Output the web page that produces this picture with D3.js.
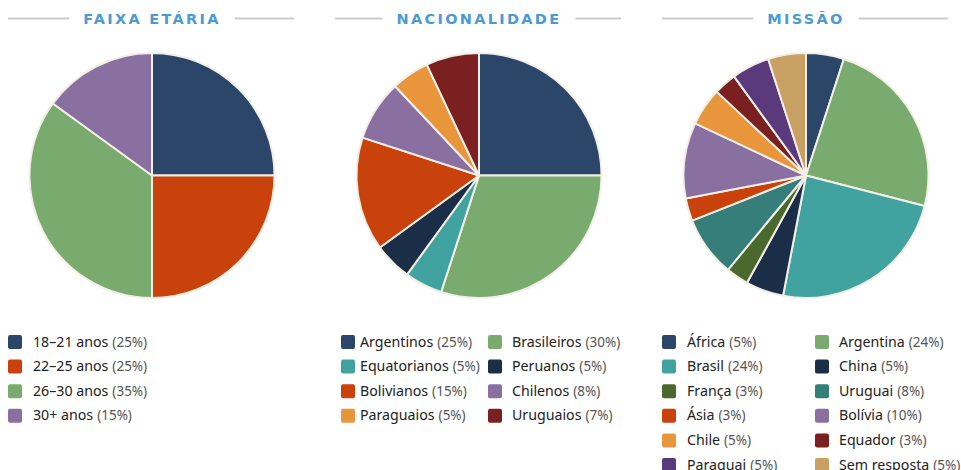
<!DOCTYPE html>
<html>
<head>
<meta charset="utf-8">
<script src="https://cdn.jsdelivr.net/npm/d3@7"></script>
<style>
  body { margin: 0; background: #fff; }
  svg { display: block; }
</style>
</head>
<body>
<div id="chart"></div>
<script>
'use strict';

// Faixa etária
const ageLabels = ['18–21 anos', '22–25 anos', '26–30 anos', '30+ anos'];
const ageValues = [25, 25, 35, 15];
const ageColors = ['#2b4669', '#c9410b', '#79ab6e', '#8a6fa1'];

// Nacionalidade
const natLabels = ['Argentinos', 'Brasileiros', 'Equatorianos', 'Peruanos', 'Bolivianos', 'Chilenos', 'Paraguaios', 'Uruguaios'];
const natValues = [25, 30, 5, 5, 15, 8, 5, 7];
const natColors = ['#2b4669', '#79ab6e', '#40a39f', '#1b2e48', '#c9410b', '#8a6fa1', '#e8953b', '#7b2020'];

// Missão
const misLabels = ['África', 'Argentina', 'Brasil', 'China', 'França', 'Uruguai', 'Ásia', 'Bolívia', 'Chile', 'Equador', 'Paraguai', 'Sem resposta'];
const misValues = [5, 24, 24, 5, 3, 8, 3, 10, 5, 3, 5, 5];
const misColors = ['#2b4669', '#79ab6e', '#40a39f', '#1b2e48', '#4b682f', '#367e7a', '#c9410b', '#8a6fa1', '#e8953b', '#7b2020', '#5b3a7b', '#c8a063'];

const width = 961, height = 470;
const radius = 122.5;

const svg = d3.select('#chart')
    .append('svg')
    .attr('width', width)
    .attr('height', height);

// legend column x (swatch) and text offsets per panel
const panels = [
    { title: 'FAIXA ETÁRIA', labels: ageLabels, values: ageValues, colors: ageColors, cx: 152, colX: [8], textDx: [25], colW: [280] },
    { title: 'NACIONALIDADE', labels: natLabels, values: natValues, colors: natColors, cx: 479, colX: [341, 488], textDx: [19, 24], colW: [147, 147] },
    { title: 'MISSÃO', labels: misLabels, values: misValues, colors: misColors, cx: 806, colX: [662, 815], textDx: [25, 24], colW: [153, 145] }
];

const pieGen = d3.pie().sort(null).value(d => d);
const arcGen = d3.arc().innerRadius(0).outerRadius(radius);

panels.forEach(p => {
    const g = svg.append('g');
    const cols = p.colX.length;

    // title with side rules
    const title = g.append('text')
        .attr('x', p.cx)
        .attr('y', 24)
        .attr('text-anchor', 'middle')
        .attr('font-family', 'DejaVu Sans, sans-serif')
        .attr('font-weight', 'bold')
        .attr('font-size', 14.5)
        .attr('letter-spacing', 2.3)
        .attr('fill', '#4a9ad4')
        .text(p.title);
    const tw = title.node().getComputedTextLength();
    const half = tw / 2 + 14;
    g.append('line')
        .attr('x1', p.cx - 144).attr('x2', p.cx - half)
        .attr('y1', 18.5).attr('y2', 18.5)
        .attr('stroke', '#cccccc').attr('stroke-width', 2);
    g.append('line')
        .attr('x1', p.cx + half).attr('x2', p.cx + 142)
        .attr('y1', 18.5).attr('y2', 18.5)
        .attr('stroke', '#cccccc').attr('stroke-width', 2);

    // pie
    const pie = g.append('g')
        .attr('transform', `translate(${p.cx},175.5)`);
    pie.selectAll('path')
        .data(pieGen(p.values))
        .join('path')
        .attr('d', arcGen)
        .attr('fill', (d, i) => p.colors[i])
        .attr('stroke', '#f4efe6')
        .attr('stroke-width', 2)
        .attr('stroke-linejoin', 'round');

    // legend
    const items = g.selectAll('g.item')
        .data(p.labels)
        .join('g')
        .attr('class', 'item')
        .attr('transform', (d, i) => {
            const col = i % cols;
            const row = Math.floor(i / cols);
            return `translate(${p.colX[col]},${335 + row * 24.6})`;
        });
    items.append('rect')
        .attr('width', 14).attr('height', 14)
        .attr('rx', 2)
        .attr('fill', (d, i) => p.colors[i]);
    items.each(function (d, i) {
        const col = i % cols;
        const t = d3.select(this).append('text')
            .attr('x', p.textDx[col])
            .attr('y', 11.5)
            .attr('font-family', 'Noto Sans, sans-serif')
            .attr('font-size', 14.2)
            .attr('fill', '#222');
        t.append('tspan').text(d);
        const pct = t.append('tspan')
            .attr('dx', 4)
            .attr('font-size', 13.5)
            .attr('fill', '#555')
            .text(`(${p.values[i]}%)`);
        // squeeze the gap when the label runs into the next column
        const avail = p.colW[col] - p.textDx[col];
        if (t.node().getComputedTextLength() > avail) pct.attr('dx', 0);
    });
});
</script>
</body>
</html>
